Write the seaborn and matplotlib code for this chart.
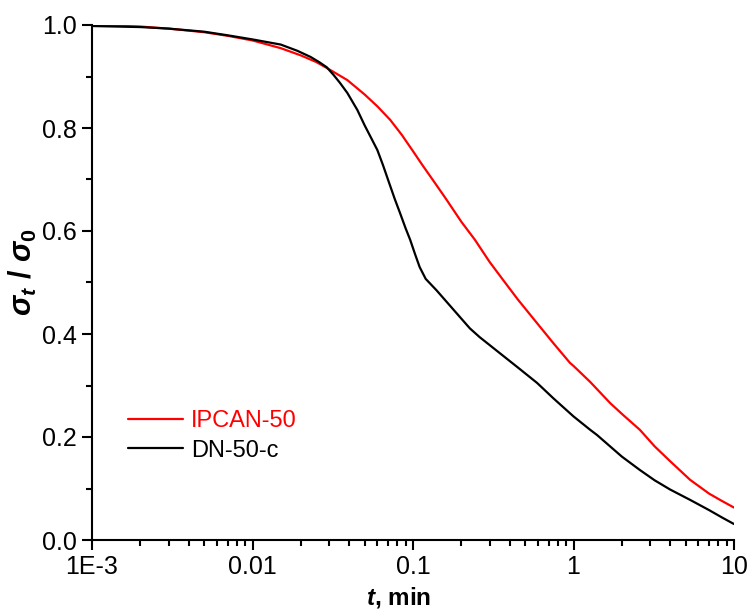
import numpy as np
import pandas as pd
import matplotlib
matplotlib.use("Agg")
import matplotlib.pyplot as plt
import seaborn as sns
from matplotlib.ticker import FixedLocator, FixedFormatter, LogLocator, NullFormatter, MultipleLocator

# ---- data ----
t_ipcan = [0.001, 0.002, 0.003, 0.005, 0.007, 0.01, 0.015, 0.02, 0.025, 0.03, 0.039, 0.05,
           0.06, 0.072, 0.085, 0.1, 0.115, 0.133, 0.16, 0.2, 0.243, 0.3, 0.364, 0.45, 0.593,
           0.75, 0.95, 1.0, 1.27, 1.69, 2.0, 2.59, 3.2, 4.0, 5.32, 7.0, 8.5, 10.0]
s_ipcan = [1.000, 0.997, 0.993, 0.986, 0.979, 0.970, 0.955, 0.941, 0.928, 0.914, 0.893, 0.865,
           0.842, 0.816, 0.787, 0.755, 0.727, 0.699, 0.663, 0.618, 0.583, 0.540, 0.505, 0.467, 0.421,
           0.382, 0.344, 0.338, 0.307, 0.266, 0.245, 0.214, 0.182, 0.153, 0.117, 0.090, 0.075, 0.063]

t_dn = [0.001, 0.002, 0.003, 0.005, 0.007, 0.01, 0.015, 0.019, 0.023, 0.026, 0.029, 0.032,
        0.035, 0.039, 0.045, 0.05, 0.055, 0.06, 0.065, 0.07, 0.077, 0.083, 0.09, 0.096, 0.103,
        0.11, 0.12, 0.14, 0.17, 0.196, 0.226, 0.26, 0.35, 0.45, 0.593, 0.75, 1.0, 1.27, 1.4,
        2.0, 2.59, 3.2, 4.0, 5.32, 7.0, 8.5, 10.0]
s_dn = [0.998, 0.996, 0.993, 0.987, 0.980, 0.972, 0.962, 0.950, 0.938, 0.928, 0.918, 0.903,
        0.888, 0.868, 0.835, 0.805, 0.780, 0.757, 0.728, 0.699, 0.662, 0.635, 0.605, 0.583, 0.555,
        0.530, 0.507, 0.485, 0.455, 0.433, 0.411, 0.394, 0.362, 0.335, 0.305, 0.275, 0.240, 0.214,
        0.204, 0.162, 0.136, 0.116, 0.098, 0.078, 0.058, 0.043, 0.031]

series_names = ["IPCAN-50", "DN-50-c"]
series_colors = ["#ff0000", "#000000"]
xtick_vals = [0.001, 0.01, 0.1, 1, 10]
xtick_labels = ["1E-3", "0.01", "0.1", "1", "10"]
ytick_vals = [0.0, 0.2, 0.4, 0.6, 0.8, 1.0]
ytick_labels = ["0.0", "0.2", "0.4", "0.6", "0.8", "1.0"]

df = pd.concat([
    pd.DataFrame({"t": t_ipcan, "s": s_ipcan, "sample": series_names[0]}),
    pd.DataFrame({"t": t_dn, "s": s_dn, "sample": series_names[1]}),
], ignore_index=True)

sns.set_style("ticks")
plt.rcParams["font.family"] = ["Liberation Sans", "DejaVu Sans"]
plt.rcParams["mathtext.fontset"] = "custom"
plt.rcParams["mathtext.it"] = "Liberation Sans:italic:bold"
plt.rcParams["mathtext.rm"] = "Liberation Sans:bold"
plt.rcParams["mathtext.bf"] = "Liberation Sans:bold"
for k in ["axes.edgecolor", "xtick.color", "ytick.color", "text.color", "axes.labelcolor"]:
    plt.rcParams[k] = "black"

fig = plt.figure(figsize=(7.51, 6.11), dpi=100)
ax = fig.add_axes([92 / 751, 1 - 540 / 611, (734 - 92) / 751, (540 - 25) / 611])

sns.lineplot(data=df, x="t", y="s", hue="sample", hue_order=series_names,
             palette=dict(zip(series_names, series_colors)), linewidth=1.6, ax=ax,
             legend=True, estimator=None, sort=False)

ax.set_xscale("log")
ax.set_xlim(0.001, 10)
ax.set_ylim(0.0, 1.0)

ax.xaxis.set_major_locator(FixedLocator(xtick_vals))
ax.xaxis.set_major_formatter(FixedFormatter(xtick_labels))
ax.xaxis.set_minor_locator(LogLocator(base=10, subs=np.arange(2, 10)))
ax.xaxis.set_minor_formatter(NullFormatter())
ax.yaxis.set_major_locator(FixedLocator(ytick_vals))
ax.yaxis.set_major_formatter(FixedFormatter(ytick_labels))
ax.yaxis.set_minor_locator(MultipleLocator(0.1))

sns.despine(ax=ax)
for sp in ["left", "bottom"]:
    ax.spines[sp].set_linewidth(1.5)
ax.tick_params(which="major", direction="out", length=7, width=1.5, labelsize=18, pad=4)
ax.tick_params(which="minor", direction="out", length=4, width=1.5)

ax.set_xlabel(r"$t$, min", fontsize=17.5, fontweight="bold")
ax.set_ylabel(r"$\sigma_t\ /\ \sigma_0$", fontsize=22, fontweight="bold")
ax.xaxis.set_label_coords(0.477, -0.087)
ax.yaxis.set_label_coords(-0.082, 0.52)

leg = ax.legend(loc="center left", bbox_to_anchor=(0.023, 0.202), frameon=False,
                fontsize=17, handlelength=2.33, handletextpad=0.34, labelspacing=0.3,
                title=None)
for txt, col in zip(leg.get_texts(), series_colors):
    txt.set_color(col)
for ln in leg.get_lines():
    ln.set_linewidth(1.6)

fig.savefig("out.png", dpi=100, facecolor="white")
